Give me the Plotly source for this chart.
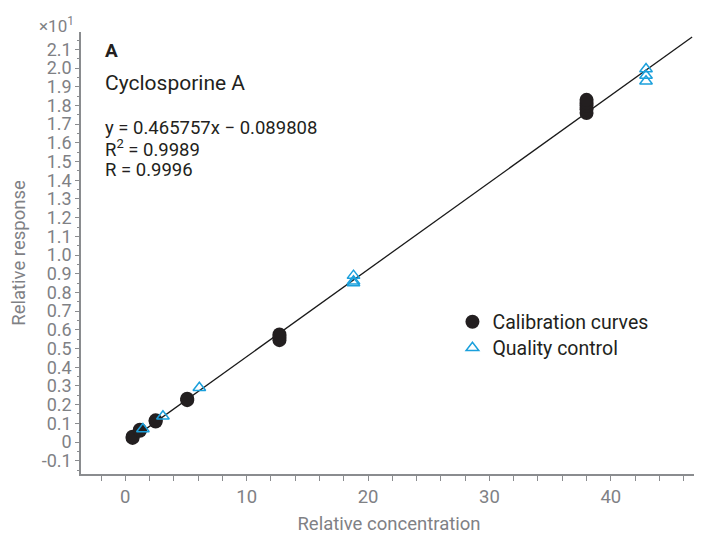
import plotly.graph_objects as go

# ---- data ----
cal_x = [0.6, 0.6, 1.2, 1.2, 2.5, 2.5, 5.1, 5.1, 12.7, 12.7, 12.7, 38.0, 38.0, 38.0, 38.0, 38.0]
cal_y = [0.22, 0.28, 0.60, 0.66, 1.10, 1.16, 2.24, 2.32, 5.45, 5.6, 5.75, 17.6, 17.8, 18.0, 18.15, 18.3]
qc_x = [1.45, 3.1, 6.1, 18.8, 18.8, 18.8, 42.9, 42.9, 42.9]
qc_y = [0.70, 1.38, 2.90, 8.5, 8.6, 8.9, 19.3, 19.6, 19.95]
slope, intercept = 0.465757, -0.089808
fit_x = [0.5, 46.7]
fit_y = [slope * v + intercept for v in fit_x]

y_tickvals = list(range(-1, 22))
y_ticktext = ["-0.1", "0"] + [f"{v/10:.1f}" for v in range(1, 22)]
x_tickvals = [0, 10, 20, 30, 40]
x_ticktext = ["0", "10", "20", "30", "40"]

GRAY = "#7f8185"
AXIS = "#8a8c8f"
TXT = "#231f20"
BLUE = "#1ba0dc"
FONT = "Roboto"

fig = go.Figure()
fig.add_trace(go.Scatter(x=fit_x, y=fit_y, mode="lines",
                         line=dict(color="#1a1a1a", width=1.3),
                         showlegend=False, hoverinfo="skip"))
fig.add_trace(go.Scatter(x=cal_x, y=cal_y, mode="markers", name="Calibration curves",
                         legend="legend",
                         marker=dict(symbol="circle", size=14, color="#231f20")))
fig.add_trace(go.Scatter(x=qc_x, y=qc_y, mode="markers", name="Quality control",
                         legend="legend2",
                         marker=dict(symbol="triangle-up-open", size=11, color=BLUE,
                                     line=dict(width=1.5, color=BLUE))))

leg_common = dict(xanchor="left", yanchor="top",
                  font=dict(family=FONT, size=19.5, color=TXT),
                  bgcolor="rgba(0,0,0,0)", itemwidth=30)

# page has an 8px body margin: figure is shrunk so it fits in 702x550 window
fig.update_layout(
    width=694, height=542,
    margin=dict(l=73, r=5, t=24, b=76, autoexpand=False),
    paper_bgcolor="white", plot_bgcolor="white",
    font=dict(family=FONT, color=GRAY, size=16),
    legend=dict(x=0.603, y=0.388, **leg_common),
    legend2=dict(x=0.603, y=0.329, **leg_common),
    xaxis=dict(range=[-3.65, 47.1], tickvals=x_tickvals, ticktext=x_ticktext,
               automargin=False,
               showgrid=False, zeroline=False, showline=True, linecolor=AXIS, linewidth=1.5,
               ticks="outside", ticklen=5, tickcolor=AXIS, tickwidth=1,
               minor=dict(dtick=2, tick0=0, ticks="outside", ticklen=5, tickcolor=AXIS, showgrid=False),
               tickfont=dict(size=18.5, color=GRAY, family=FONT),
               title=dict(text="Relative concentration", standoff=10,
                          font=dict(size=18.5, color=GRAY, family=FONT))),
    yaxis=dict(range=[-1.71, 21.93], tickvals=y_tickvals, ticktext=y_ticktext,
               automargin=False,
               showgrid=False, zeroline=False, showline=True, linecolor=AXIS, linewidth=1.5,
               ticks="outside", ticklen=4, tickcolor=AXIS, tickwidth=1,
               minor=dict(dtick=0.5, tick0=0, ticks="outside", ticklen=2, tickcolor=AXIS, showgrid=False),
               tickfont=dict(size=18, color=GRAY, family=FONT),
               title=dict(text="Relative response", standoff=13,
                          font=dict(size=18.5, color=GRAY, family=FONT))),
)

def px(xp):
    return (xp - 81) / 616

def py(yp):
    return (474 - yp) / 442

annots = [
    dict(text="<b>A</b>", x=px(103), y=py(51), size=19),
    dict(text="Cyclosporine A", x=px(103), y=py(83), size=21),
    dict(text="y = 0.465757x − 0.089808", x=px(103), y=py(128), size=18.5),
    dict(text="R<sup>2</sup> = 0.9989", x=px(103), y=py(149), size=18.5),
    dict(text="R = 0.9996", x=px(103), y=py(170), size=18.5),
]
for a in annots:
    fig.add_annotation(text=a["text"], x=a["x"], y=a["y"], xref="paper", yref="paper",
                       xanchor="left", yanchor="middle", showarrow=False,
                       font=dict(family=FONT, size=a["size"], color=TXT))

fig.add_annotation(text="×10<sup>1</sup>", x=px(76), y=py(25), xref="paper", yref="paper",
                   xanchor="right", yanchor="middle", showarrow=False,
                   font=dict(family=FONT, size=17, color=GRAY))

fig.write_html("out.html")
